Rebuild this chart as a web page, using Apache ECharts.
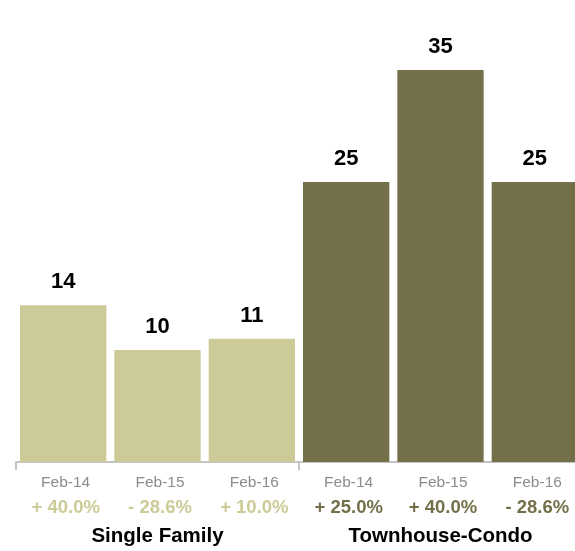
<!DOCTYPE html>
<html>
<head>
<meta charset="utf-8">
<script src="https://cdn.jsdelivr.net/npm/echarts@6/dist/echarts.min.js"></script>
<style>html,body{margin:0;padding:0;background:#fff}#c{width:575px;height:551px}</style>
</head>
<body>
<div id="c"></div>
<script>
var months = ['Feb-14', 'Feb-15', 'Feb-16', 'Feb-14', 'Feb-15', 'Feb-16'];
var values = [14, 10, 11, 25, 35, 25];
var changes = ['+ 40.0%', '- 28.6%', '+ 10.0%', '+ 25.0%', '+ 40.0%', '- 28.6%'];
var groupOf = [0, 0, 0, 1, 1, 1];
var groups = ['Single Family', 'Townhouse-Condo'];
var groupColors = ['#cccb97', '#737049'];

var FONT = '"Liberation Sans", Arial, Helvetica, sans-serif';
var chart = echarts.init(document.getElementById('c'), null, {renderer: 'canvas'});
chart.setOption({
  animation: false,
  backgroundColor: '#ffffff',
  grid: {left: 16, right: -7, top: 14, bottom: 89, containLabel: false, outerBoundsMode: 'none'},
  xAxis: [{
    type: 'category',
    data: months,
    position: 'bottom',
    axisLine: {show: false},
    axisTick: {show: false},
    axisLabel: {
      interval: 0,
      margin: 8,
      formatter: function (v, i) {
        return '{d|' + v + '}\n{' + (groupOf[i] === 0 ? 'pl' : 'pd') + '|' + changes[i] + '}';
      },
      rich: {
        d: {fontFamily: FONT, fontSize: 15.5, color: '#8c8c8c', lineHeight: 25, padding: [0, 0, 0, 5]},
        pl: {fontFamily: FONT, fontSize: 18.5, fontWeight: 'bold', color: groupColors[0], lineHeight: 25, padding: [0, 0, 0, 5]},
        pd: {fontFamily: FONT, fontSize: 18.5, fontWeight: 'bold', color: groupColors[1], lineHeight: 25, padding: [0, 0, 0, 5]}
      }
    }
  }, {
    type: 'category',
    data: groups,
    position: 'bottom',
    axisLine: {show: true, lineStyle: {color: '#c4c4c4', width: 2}},
    axisTick: {show: true, length: 8, lineStyle: {color: '#c4c4c4', width: 2}},
    axisLabel: {
      interval: 0,
      margin: 64,
      fontFamily: FONT,
      fontSize: 20.5,
      fontWeight: 'bold',
      color: '#000000',
      lineHeight: 20
    }
  }],
  yAxis: {
    type: 'value',
    min: 0,
    max: 40,
    show: false,
    splitLine: {show: false}
  },
  series: [{
    type: 'bar',
    xAxisIndex: 0,
    barCategoryGap: '8.5%',
    data: values.map(function (v, i) {
      return {value: v, itemStyle: {color: groupColors[groupOf[i]]}};
    }),
    label: {
      show: true,
      position: 'top',
      distance: 12,
      fontFamily: FONT,
      fontSize: 22,
      fontWeight: 'bold',
      color: '#000000'
    },
    z: 3
  }]
});
</script>
</body>
</html>
